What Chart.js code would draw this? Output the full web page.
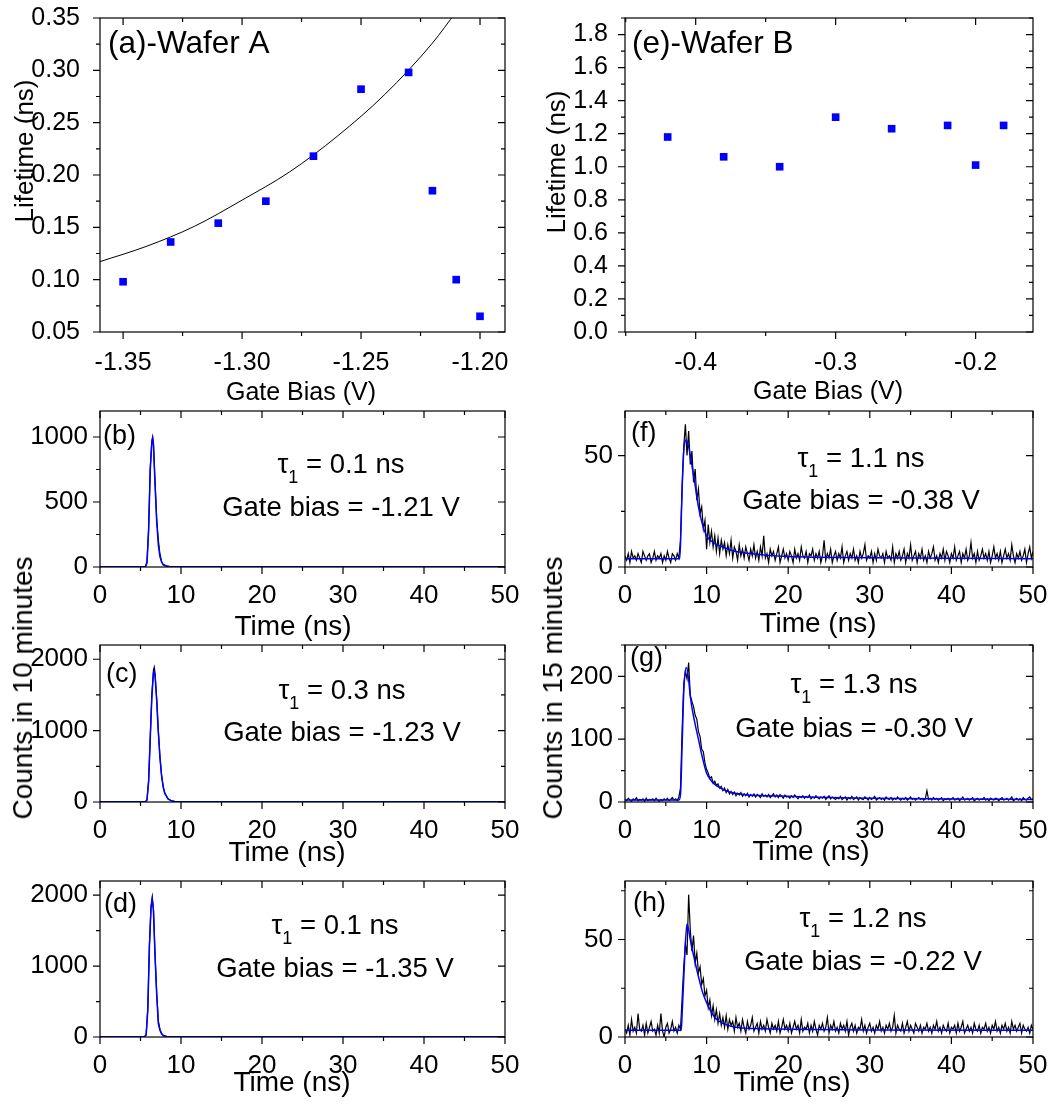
<!DOCTYPE html>
<html lang="en">
<head>
<meta charset="UTF-8">
<title>Lifetime vs gate bias, wafers A and B</title>
<script src="https://cdn.jsdelivr.net/npm/chart.js"></script>
<style>
  body { margin: 0; background: #fff; }
  #page { position: relative; width: 1056px; height: 1108px; overflow: hidden; background: #fff; }
  canvas { position: absolute; }
  .vlabel {
    position: absolute; white-space: nowrap; color: #000;
    font: 28px "Liberation Sans", Arial, sans-serif; line-height: 28px;
    transform: translate(-50%, -50%) rotate(-90deg);
  }
</style>
</head>
<body>
<div id="page">
  <canvas id="pa"></canvas>
  <canvas id="pe"></canvas>
  <canvas id="pb"></canvas>
  <canvas id="pc"></canvas>
  <canvas id="pd"></canvas>
  <canvas id="pf"></canvas>
  <canvas id="pg"></canvas>
  <canvas id="ph"></canvas>
  <div class="vlabel" style="left:23px; top:688px">Counts in 10 minutes</div>
  <div class="vlabel" style="left:553px; top:688px">Counts in 15 minutes</div>
</div>
<script>
// ---- data ----
// (a) wafer A lifetime vs gate bias, plus the fitted curve
const biasA = [-1.35, -1.33, -1.31, -1.29, -1.27, -1.25, -1.23, -1.22, -1.21, -1.20];
const lifeA = [0.098, 0.136, 0.154, 0.175, 0.218, 0.282, 0.298, 0.185, 0.100, 0.065];
const fitBiasA = [-1.36, -1.34, -1.32, -1.30, -1.28, -1.26, -1.24, -1.22, -1.21];
const fitLifeA = [0.117, 0.132, 0.151, 0.176, 0.203, 0.237, 0.277, 0.326, 0.356];

// (e) wafer B
const biasB = [-0.42, -0.38, -0.34, -0.30, -0.26, -0.22, -0.20, -0.18];
const lifeB = [1.18, 1.06, 1.00, 1.30, 1.23, 1.25, 1.01, 1.25];

// (b)(c)(d) wafer A decays (narrow peaks)
const timeB = [0, 5.6, 5.8, 6.0, 6.2, 6.4, 6.5, 6.6, 6.8, 7.0, 7.2, 7.4, 7.6, 7.8, 8.2, 8.6, 9.0, 50];
const countsB = [3, 3, 40, 290, 760, 970, 1000, 950, 650, 370, 210, 100, 45, 20, 8, 4, 3, 3];
const fitB = [2, 2, 30, 280, 740, 960, 990, 940, 630, 350, 170, 80, 38, 17, 6, 3, 2, 2];

const timeC = [0, 5.6, 5.8, 6.0, 6.2, 6.4, 6.6, 6.7, 6.8, 7.0, 7.2, 7.4, 7.6, 7.8, 8.0, 8.4, 8.8, 9.2, 10, 50];
const countsC = [4, 4, 30, 300, 900, 1500, 1850, 1890, 1800, 1450, 1000, 640, 380, 220, 125, 45, 18, 8, 4, 4];
const fitC = [3, 3, 25, 280, 880, 1470, 1810, 1830, 1760, 1420, 980, 620, 370, 210, 120, 42, 16, 7, 3, 3];

const timeD = [0, 5.5, 5.7, 5.9, 6.1, 6.3, 6.45, 6.6, 6.8, 7.0, 7.2, 7.4, 7.6, 7.8, 8.2, 8.6, 9.0, 50];
const countsD = [3, 3, 40, 400, 1300, 1850, 1970, 1800, 1150, 620, 230, 110, 50, 22, 8, 4, 3, 3];
const fitD = [2, 2, 30, 380, 1270, 1820, 1950, 1780, 1130, 600, 190, 95, 45, 20, 7, 3, 2, 2];

// (f)(g)(h) wafer B histograms, 0.2 ns bins from 0 to 50 ns
const countsF = [
  5,3,6,2,7,4,5,3,6,4, 2,7,5,3,5,6,2,4,7,3, 5,4,6,2,5,3,7,4,2,6, 5,3,6,4,12,36,54,64,50,61,
  46,52,38,44,30,35,24,27,17,21, 8,19,11,16,9,14,7,13,6,12, 8,11,5,10,6,12,4,9,7,3, 10,5,8,4,9,6,3,8,5,10,
  4,7,3,9,5,14,4,6,2,8, 5,7,3,6,9,2,5,8,4,6, 3,7,5,2,8,4,6,3,9,5, 4,7,2,6,5,8,3,6,4,7,
  2,5,12,3,6,4,8,2,5,7, 3,6,4,9,2,5,7,3,6,4, 8,3,5,2,7,4,6,10,3,5, 4,7,2,6,3,8,5,4,6,2,
  7,4,5,3,9,2,6,4,7,3, 5,8,2,6,4,10,3,5,7,2, 6,4,8,3,5,2,7,4,6,9, 3,5,2,6,4,8,3,7,5,2,
  6,4,9,3,5,7,2,6,4,8, 3,5,11,4,6,2,7,3,5,8, 4,6,3,7,2,5,9,4,6,3, 7,2,5,8,4,6,3,10,5,2,
  6,4,7,3,5,8,2,6,9,4, 7
];
const countsG = [
  4,2,6,3,1,5,3,7,2,4, 3,5,1,6,2,4,3,5,2,6, 3,1,4,2,5,3,6,2,4,7, 3,5,2,8,22,115,188,208,196,222,
  170,160,152,138,132,112,104,84,80,62, 52,46,38,40,30,33,26,29,22,25, 18,22,15,20,13,17,12,16,10,14, 11,15,9,13,10,14,8,12,9,13,
  8,12,10,7,13,9,11,8,12,7, 10,13,8,11,7,12,9,6,11,8, 9,6,10,7,11,8,5,9,7,10, 6,9,7,11,5,8,6,10,7,5,
  8,6,9,4,7,10,5,8,6,4, 7,5,9,4,6,8,3,7,5,9, 4,6,8,3,7,5,4,8,6,3, 7,4,6,9,3,5,7,4,6,3,
  8,5,4,7,3,6,4,8,5,3, 6,4,7,3,5,8,4,6,3,5, 7,4,6,3,5,18,4,6,3,7, 4,6,3,5,7,2,5,4,6,3,
  5,7,3,4,6,2,5,8,3,4, 6,3,5,7,2,4,6,3,5,4, 7,3,5,2,6,4,3,6,5,2, 5,7,3,4,6,3,5,8,2,4,
  6,3,5,2,7,4,3,6,8,4, 5
];
const countsH = [
  4,2,6,1,9,3,5,2,12,4, 3,6,1,7,2,5,8,3,4,1, 6,2,12,3,0,5,7,2,4,8, 3,5,2,6,4,20,36,48,42,73,
  55,44,52,38,43,33,36,27,30,21, 24,15,19,11,16,9,14,7,12,6, 10,5,11,4,9,6,8,3,10,5, 7,3,9,5,2,8,4,6,10,3,
  5,7,2,8,4,6,3,9,5,2, 7,4,6,3,8,2,5,9,4,6, 3,7,2,5,8,4,6,2,9,3, 5,4,7,2,6,3,8,4,1,6,
  4,7,3,5,10,2,6,4,8,3, 5,2,7,4,6,3,8,1,5,7, 3,6,2,5,4,9,3,6,2,5, 7,3,5,2,6,4,8,3,5,2,
  6,4,7,3,5,11,2,6,4,3, 7,2,5,8,3,6,4,2,7,5, 3,6,2,5,4,7,3,5,2,6, 4,8,3,5,2,6,4,3,7,2,
  5,4,6,2,7,3,5,8,2,4, 6,3,5,2,7,4,3,6,2,5, 4,7,3,5,2,6,4,8,3,5, 2,6,4,7,3,5,2,8,4,6,
  3,5,7,2,6,4,3,5,2,6, 4
];
const binWidth = 0.2; // ns per histogram bin
const binTimes = countsF.map((_, i) => i * binWidth);

// fitted decays (blue curves)
const fitTimeF = [0, 6.7, 6.8, 7.0, 7.2, 7.5, 7.8, 8.0, 8.5, 9.0, 9.5, 10, 11, 12, 13, 15, 20, 30, 40, 50];
const fitF = [3.7, 3.7, 10, 35, 52, 57, 54, 50, 39, 27, 19, 14, 10.5, 9, 7.5, 6.2, 4.7, 4.2, 3.9, 3.7];
const fitTimeG = [0, 6.6, 6.8, 7.0, 7.2, 7.5, 7.8, 8.0, 8.5, 9.0, 9.5, 10, 10.5, 11, 12, 13, 14, 15, 17, 20, 25, 30, 40, 50];
const fitG = [3, 3, 12, 90, 175, 214, 195, 168, 130, 100, 70, 46, 35, 28, 20, 15, 13, 11, 10, 9, 7, 6, 4.8, 4];
const fitTimeH = [0, 6.9, 7.0, 7.2, 7.4, 7.6, 7.8, 8.0, 8.5, 9.0, 9.5, 10, 11, 12, 13, 14, 16, 20, 30, 50];
const fitH = [3.5, 3.5, 12, 30, 48, 58, 55, 50, 40, 31, 23, 17.6, 10, 7, 5.5, 4.8, 4.3, 4, 3.6, 3.4];

// ---- drawing ----
const FONT = '"Liberation Sans", Arial, sans-serif';
Chart.defaults.font.family = FONT;
Chart.defaults.color = '#000';

function isMajor(v, major) {
  const r = v / major;
  return Math.abs(r - Math.round(r)) < 1e-6;
}

// box, inward/outward tick marks and the in-plot texts
const framePlugin = {
  id: 'frame',
  afterDraw(chart, args, o) {
    const { ctx, chartArea: a } = chart;
    const xs = chart.scales.x, ys = chart.scales.y;
    ctx.save();
    ctx.strokeStyle = '#000';
    ctx.lineWidth = 1.2;
    ctx.strokeRect(a.left, a.top, a.right - a.left, a.bottom - a.top);
    ctx.beginPath();
    xs.ticks.forEach(t => {
      const p = xs.getPixelForValue(t.value);
      const len = isMajor(t.value, o.xMajor) ? 7 : 4;
      ctx.moveTo(p, a.bottom); ctx.lineTo(p, a.bottom + len);
      ctx.moveTo(p, a.top); ctx.lineTo(p, a.top + len);
    });
    ys.ticks.forEach(t => {
      const p = ys.getPixelForValue(t.value);
      const len = isMajor(t.value, o.yMajor) ? 7 : 4;
      ctx.moveTo(a.left - len, p); ctx.lineTo(a.left, p);
      ctx.moveTo(a.right - len, p); ctx.lineTo(a.right, p);
    });
    ctx.stroke();

    ctx.fillStyle = '#000';
    ctx.textBaseline = 'alphabetic';
    o.texts.forEach(t => {
      const x = t.x - o.ox, y = t.y - o.oy;
      if (t.parts) {
        let w = 0;
        t.parts.forEach(p => { ctx.font = p[1] + 'px ' + FONT; w += ctx.measureText(p[0]).width; });
        let cx = x - w / 2;
        ctx.textAlign = 'left';
        t.parts.forEach(p => {
          ctx.font = p[1] + 'px ' + FONT;
          ctx.fillText(p[0], cx, y + p[2]);
          cx += ctx.measureText(p[0]).width;
        });
        return;
      }
      ctx.font = t.size + 'px ' + FONT;
      if (t.rot) {
        ctx.save();
        ctx.translate(x, y);
        ctx.rotate(-Math.PI / 2);
        ctx.textAlign = 'center';
        ctx.fillText(t.text, 0, 0);
        ctx.restore();
      } else {
        ctx.textAlign = t.align || 'left';
        ctx.fillText(t.text, x, y);
      }
    });
    ctx.restore();
  }
};

const pts = (xs, ys) => xs.map((x, i) => ({ x, y: ys[i] }));
const lineSet = (xs, ys, color, width, smooth) => ({
  data: pts(xs, ys), borderColor: color, borderWidth: width, pointRadius: 0,
  fill: false, tension: 0, cubicInterpolationMode: smooth ? 'monotone' : 'default'
});
const squareSet = (xs, ys) => ({
  data: pts(xs, ys), showLine: false, pointStyle: 'rect', pointRadius: 5.4,
  backgroundColor: '#0000ff', borderColor: '#0000ff', borderWidth: 0
});
const tauText = (tau, bias, x, y1, y2) => [
  { parts: [['\u03c4', 27.5, 0], ['1', 18, 10], [' = ' + tau + ' ns', 27.5, 0]], x: x, y: y1 },
  { text: 'Gate bias = ' + bias + ' V', x: x, y: y2, size: 27.5, align: 'center' }
];

function panel(id, plot, xa, ya, datasets, texts) {
  const box = { x0: Math.max(0, plot.l - 100), y0: Math.max(0, plot.t - 22), x1: plot.r + 24, y1: plot.b + 80 };
  const cv = document.getElementById(id);
  cv.width = box.x1 - box.x0;
  cv.height = box.y1 - box.y0;
  cv.style.left = box.x0 + 'px';
  cv.style.top = box.y0 + 'px';
  const axis = (c, fit) => ({
    type: 'linear', min: c.min, max: c.max,
    grid: { display: false }, border: { display: false },
    // one tick per minor step inside the range, labels only on the major ones
    afterBuildTicks: s => {
      const out = [];
      for (let k = Math.ceil(c.min / c.step - 1e-9); k * c.step <= c.max + 1e-9; k++) {
        out.push({ value: +(k * c.step).toFixed(6) });
      }
      s.ticks = out;
    },
    ticks: {
      autoSkip: false, maxRotation: 0, padding: c.pad, font: { size: c.size },
      callback: v => isMajor(v, c.major) ? v.toFixed(c.dec) : ''
    },
    afterFit: fit
  });
  new Chart(cv, {
    type: 'line',
    data: { datasets },
    options: {
      responsive: false, animation: false, events: [],
      layout: { padding: { top: plot.t - box.y0, right: box.x1 - plot.r, left: 0, bottom: 0 } },
      plugins: {
        legend: { display: false }, tooltip: { enabled: false },
        frame: { xMajor: xa.major, yMajor: ya.major, ox: box.x0, oy: box.y0, texts }
      },
      scales: {
        x: axis(xa, s => { s.height = box.y1 - plot.b; s.paddingLeft = 0; s.paddingRight = 0; }),
        y: axis(ya, s => { s.width = plot.l - box.x0; s.paddingTop = 0; s.paddingBottom = 0; })
      }
    },
    plugins: [framePlugin]
  });
}

const timeAxis = { min: 0, max: 50, step: 5, major: 10, dec: 0, pad: 5, size: 26 };
const yCount = (max, step, major) => ({ min: 0, max, step, major, dec: 0, pad: 4, size: 26 });

// (a)
panel('pa', { l: 100, t: 18, r: 505, b: 332 },
  { min: -1.3597, max: -1.1895, step: 0.025, major: 0.05, dec: 2, pad: 8, size: 25 },
  { min: 0.05, max: 0.35, step: 0.025, major: 0.05, dec: 2, pad: 12, size: 25 },
  [squareSet(biasA, lifeA), lineSet(fitBiasA, fitLifeA, '#000', 1, true)],
  [
    { text: '(a)-Wafer A', x: 108, y: 53, size: 31.5 },
    { text: 'Gate Bias (V)', x: 301, y: 400, size: 25, align: 'center' },
    { text: 'Lifetime (ns)', x: 33, y: 151, size: 26, rot: true }
  ]);

// (e)
panel('pe', { l: 625, t: 18, r: 1033, b: 332 },
  { min: -0.4505, max: -0.159, step: 0.05, major: 0.1, dec: 1, pad: 8, size: 25 },
  { min: 0, max: 1.9, step: 0.1, major: 0.2, dec: 1, pad: 9, size: 25 },
  [squareSet(biasB, lifeB)],
  [
    { text: '(e)-Wafer B', x: 632, y: 53, size: 31.5 },
    { text: 'Gate Bias (V)', x: 828, y: 399, size: 25, align: 'center' },
    { text: 'Lifetime (ns)', x: 565, y: 162, size: 26, rot: true }
  ]);

// (b)
panel('pb', { l: 100, t: 411, r: 505, b: 567 }, timeAxis, yCount(1200, 250, 500),
  [lineSet(timeB, fitB, '#0000ff', 1.5), lineSet(timeB, countsB, '#000', 1.2)],
  [{ text: '(b)', x: 103, y: 444, size: 27 }, ...tauText('0.1', '-1.21', 341, 473, 516),
   { text: 'Time (ns)', x: 293, y: 635, size: 28, align: 'center' }]);

// (c)
panel('pc', { l: 100, t: 645, r: 505, b: 802 }, timeAxis, yCount(2200, 500, 1000),
  [lineSet(timeC, fitC, '#0000ff', 1.5), lineSet(timeC, countsC, '#000', 1.2)],
  [{ text: '(c)', x: 106, y: 682, size: 27 }, ...tauText('0.3', '-1.23', 342, 699, 741),
   { text: 'Time (ns)', x: 287, y: 861, size: 28, align: 'center' }]);

// (d)
panel('pd', { l: 100, t: 881, r: 505, b: 1037 }, timeAxis, yCount(2200, 500, 1000),
  [lineSet(timeD, fitD, '#0000ff', 1.5), lineSet(timeD, countsD, '#000', 1.2)],
  [{ text: '(d)', x: 104, y: 912, size: 27 }, ...tauText('0.1', '-1.35', 335, 934, 977),
   { text: 'Time (ns)', x: 292, y: 1091, size: 28, align: 'center' }]);

// (f)
panel('pf', { l: 625, t: 411, r: 1033, b: 567 }, timeAxis, yCount(70, 25, 50),
  [lineSet(fitTimeF, fitF, '#0000ff', 1.5, true), lineSet(binTimes, countsF, '#000', 1.2)],
  [{ text: '(f)', x: 631, y: 441, size: 27 }, ...tauText('1.1', '-0.38', 861, 467, 509),
   { text: 'Time (ns)', x: 818, y: 632, size: 28, align: 'center' }]);

// (g)
panel('pg', { l: 625, t: 645, r: 1033, b: 802 }, timeAxis, yCount(250, 50, 100),
  [lineSet(fitTimeG, fitG, '#0000ff', 1.5, true), lineSet(binTimes, countsG, '#000', 1.2)],
  [{ text: '(g)', x: 630, y: 666, size: 27 }, ...tauText('1.3', '-0.30', 854, 693, 737),
   { text: 'Time (ns)', x: 811, y: 860, size: 28, align: 'center' }]);

// (h)
panel('ph', { l: 625, t: 881, r: 1033, b: 1037 }, timeAxis, yCount(80, 25, 50),
  [lineSet(fitTimeH, fitH, '#0000ff', 1.5, true), lineSet(binTimes, countsH, '#000', 1.2)],
  [{ text: '(h)', x: 633, y: 911, size: 27 }, ...tauText('1.2', '-0.22', 863, 927, 970),
   { text: 'Time (ns)', x: 792, y: 1091, size: 28, align: 'center' }]);
</script>
</body>
</html>
